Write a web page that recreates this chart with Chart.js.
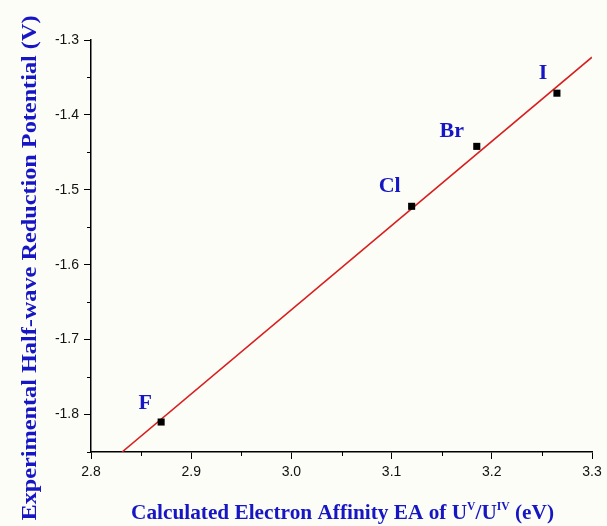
<!DOCTYPE html>
<html>
<head>
<meta charset="utf-8">
<script src="https://cdn.jsdelivr.net/npm/chart.js@4"></script>
<style>
  html, body { margin: 0; padding: 0; background: #fdfdf8; }
  #wrap { width: 607px; height: 526px; position: relative; }
</style>
</head>
<body>
<div id="wrap"><canvas id="grafico"></canvas></div>
<script>
// --- DATOS ---
const elementos = ['F', 'Cl', 'Br', 'I'];
const afinidad = [2.87, 3.12, 3.185, 3.265];     // eV
const potencial = [-1.81, -1.522, -1.442, -1.371]; // V
const ajusteX = [2.831, 3.3];
const ajusteY = [-1.85, -1.323];
const ticksX = [2.8, 2.9, 3.0, 3.1, 3.2, 3.3];
const ticksY = [-1.3, -1.4, -1.5, -1.6, -1.7, -1.8];

const azul = '#1616c4';
const esMayor = v => Math.abs(Math.round(v * 100) % 10) === 0;

// desplazamiento de cada etiqueta respecto a su punto (px)
const desplaz = [[-16, -19], [-22, -20], [-25, -15], [-14, -20]];

const extras = {
  id: 'extras',
  afterDraw(chart) {
    const { ctx, scales: { x, y } } = chart;
    ctx.save();
    // ticks menores
    ctx.strokeStyle = '#000';
    ctx.lineWidth = 1;
    x.ticks.forEach(t => {
      if (esMayor(t.value)) return;
      const px = Math.round(x.getPixelForValue(t.value)) + 0.5;
      ctx.beginPath(); ctx.moveTo(px, y.bottom); ctx.lineTo(px, y.bottom + 4); ctx.stroke();
    });
    y.ticks.forEach(t => {
      if (esMayor(t.value)) return;
      const py = Math.round(y.getPixelForValue(t.value)) + 0.5;
      ctx.beginPath(); ctx.moveTo(x.left, py); ctx.lineTo(x.left - 4, py); ctx.stroke();
    });

    // etiquetas de los halógenos
    ctx.fillStyle = azul;
    ctx.font = 'bold 22px "Liberation Serif"';
    ctx.textAlign = 'center';
    ctx.textBaseline = 'middle';
    elementos.forEach((el, i) => {
      const px = x.getPixelForValue(afinidad[i]) + desplaz[i][0];
      const py = y.getPixelForValue(potencial[i]) + desplaz[i][1];
      ctx.fillText(el, px, py);
    });

    // título eje Y (estirado al largo del original)
    const tituloY = 'Experimental Half-wave Reduction Potential (V)';
    ctx.save();
    ctx.font = 'bold 22px "Liberation Serif"';
    const kY = 505 / ctx.measureText(tituloY).width;
    ctx.translate(30, 268);
    ctx.rotate(-Math.PI / 2);
    ctx.scale(kY, 1);
    ctx.fillText(tituloY, 0, 0);
    ctx.restore();

    // título eje X con superíndices
    const partes = [
      ['Calculated Electron Affinity EA of U', false],
      ['V', true],
      ['/U', false],
      ['IV', true],
      [' (eV)', false]
    ];
    const fNormal = 'bold 22px "Liberation Serif"';
    const fSup = 'bold 12px "Liberation Serif"';
    let total = 0;
    partes.forEach(([t, sup]) => { ctx.font = sup ? fSup : fNormal; total += ctx.measureText(t).width; });
    const kX = 423 / total;
    ctx.save();
    ctx.translate(342.5 - 423 / 2, 519);
    ctx.scale(kX, 1);
    let cx = 0;
    ctx.textAlign = 'left';
    ctx.textBaseline = 'alphabetic';
    partes.forEach(([t, sup]) => {
      ctx.font = sup ? fSup : fNormal;
      ctx.fillText(t, cx, sup ? -9 : 0);
      cx += ctx.measureText(t).width;
    });
    ctx.restore();
    ctx.restore();
  }
};

new Chart(document.getElementById('grafico'), {
  type: 'scatter',
  data: {
    datasets: [
      {
        label: 'Datos',
        data: afinidad.map((v, i) => ({ x: v, y: potencial[i] })),
        pointStyle: 'rect',
        pointRadius: 5,
        pointBackgroundColor: '#000',
        pointBorderColor: '#000',
        pointBorderWidth: 0,
        order: 1
      },
      {
        label: 'Ajuste',
        type: 'line',
        data: ajusteX.map((v, i) => ({ x: v, y: ajusteY[i] })),
        borderColor: '#d81e1e',
        borderWidth: 1.6,
        pointRadius: 0,
        fill: false,
        order: 2
      }
    ]
  },
  options: {
    responsive: true,
    maintainAspectRatio: false,
    animation: false,
    layout: { padding: { left: 0, top: 40, right: 15, bottom: 0 } },
    plugins: {
      legend: { display: false },
      tooltip: { enabled: false }
    },
    scales: {
      x: {
        type: 'linear',
        min: 2.8,
        max: 3.3,
        afterFit: s => { s.height = 74; },
        afterBuildTicks: s => {
          const t = [];
          for (let i = 0; i < ticksX.length; i++) {
            t.push({ value: ticksX[i] });
            if (i < ticksX.length - 1) t.push({ value: Math.round((ticksX[i] + 0.05) * 100) / 100 });
          }
          s.ticks = t;
        },
        border: { color: '#000', width: 1.5 },
        grid: {
          drawOnChartArea: false,
          tickLength: 7,
          tickColor: c => esMayor(c.tick.value) ? '#000' : 'rgba(0,0,0,0)',
          tickWidth: 1
        },
        ticks: {
          autoSkip: false,
          maxRotation: 0,
          padding: 5,
          color: '#111',
          font: { family: '"Liberation Sans"', size: 14 },
          callback: v => esMayor(v) ? v.toFixed(1) : ''
        }
      },
      y: {
        type: 'linear',
        min: -1.85,
        max: -1.3,
        afterFit: s => { s.width = 91; },
        afterBuildTicks: s => {
          const t = [{ value: -1.85 }];
          for (let i = ticksY.length - 1; i >= 0; i--) {
            t.push({ value: ticksY[i] });
            if (i > 0) t.push({ value: Math.round((ticksY[i] + 0.05) * 100) / 100 });
          }
          s.ticks = t;
        },
        border: { color: '#000', width: 1.5 },
        grid: {
          drawOnChartArea: false,
          tickLength: 7,
          tickColor: c => esMayor(c.tick.value) ? '#000' : 'rgba(0,0,0,0)',
          tickWidth: 1
        },
        ticks: {
          autoSkip: false,
          padding: 5,
          color: '#111',
          font: { family: '"Liberation Sans"', size: 14 },
          callback: v => esMayor(v) ? v.toFixed(1) : ''
        }
      }
    }
  },
  plugins: [extras]
});
</script>
</body>
</html>
